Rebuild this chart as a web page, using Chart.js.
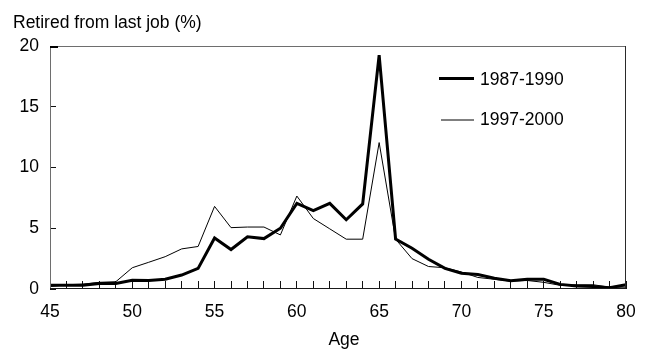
<!DOCTYPE html>
<html>
<head>
<meta charset="utf-8">
<script src="https://cdn.jsdelivr.net/npm/chart.js@4"></script>
<style>
html,body{margin:0;padding:0;background:#fff;}
#c{display:block;}
</style>
</head>
<body>
<canvas id="c" width="649" height="350"></canvas>
<script>
const ages = [45,46,47,48,49,50,51,52,53,54,55,56,57,58,59,60,61,62,63,64,65,66,67,68,69,70,71,72,73,74,75,76,77,78,79,80];
const series1987 = [0.3,0.3,0.3,0.45,0.45,0.72,0.7,0.8,1.15,1.7,4.2,3.25,4.3,4.15,5.0,7.05,6.45,7.05,5.7,7.0,19.25,4.1,3.35,2.45,1.7,1.3,1.2,0.88,0.68,0.8,0.8,0.38,0.25,0.2,0.1,0.35];
const series1997 = [0.2,0.35,0.4,0.55,0.6,1.75,2.2,2.66,3.3,3.5,6.8,5.05,5.1,5.1,4.45,7.65,5.8,4.95,4.1,4.1,12.05,4.1,2.5,1.85,1.75,1.4,0.95,0.8,0.65,0.7,0.55,0.3,0.35,0.35,0.15,0.15];
const yTicks = [0,5,10,15,20];
const xTickLabels = [45,50,55,60,65,70,75,80];
const seriesNames = ['1987-1990','1997-2000'];
const yTitle = 'Retired from last job (%)';
const xTitle = 'Age';

const FONT = 'Liberation Sans, Arial, sans-serif';
const FS = 17.5;

const decor = {
  id: 'decor',
  afterDraw(chart) {
    const ctx = chart.ctx;
    const a = chart.chartArea;
    const L = Math.round(a.left), R = Math.round(a.right), T = Math.round(a.top), B = Math.round(a.bottom);
    ctx.save();
    // plot frame as filled 1px rectangles
    ctx.fillStyle = '#6e6e6e';
    ctx.fillRect(L, T, 1, B - T);        // left
    ctx.fillRect(L, T, R - L, 1);        // top
    ctx.fillStyle = '#2a2a2a';
    ctx.fillRect(R - 1, T, 1, B - T);    // right
    ctx.fillStyle = '#1a1a1a';
    ctx.fillRect(L, B - 1, R - L, 1);    // bottom
    ctx.fillStyle = '#000';
    ctx.fillRect(L, T, 8, 2);            // dark mark at 20
    // titles
    ctx.fillStyle = '#000';
    ctx.font = FS + 'px ' + FONT;
    ctx.textBaseline = 'alphabetic';
    ctx.textAlign = 'left';
    ctx.fillText(yTitle, 13, 28);
    ctx.textAlign = 'center';
    ctx.fillText(xTitle, (a.left + a.right) / 2 + 6, 345);
    // legend
    const legLineY = [78.5, 120];
    const legTextY = [85, 125];
    chart.data.datasets.forEach((d, i) => {
      ctx.strokeStyle = d.borderColor;
      ctx.lineWidth = d.borderWidth;
      ctx.beginPath();
      ctx.moveTo(i === 0 ? 439 : 441, legLineY[i]);
      ctx.lineTo(474, legLineY[i]);
      ctx.stroke();
      ctx.textAlign = 'left';
      ctx.fillText(d.label, 480, legTextY[i]);
    });
    ctx.restore();
  }
};

new Chart(document.getElementById('c'), {
  type: 'line',
  data: {
    labels: ages,
    datasets: [
      { label: seriesNames[0], data: ages.map((a, i) => ({x: a, y: series1987[i]})), borderColor: '#000', borderWidth: 3, pointRadius: 0, tension: 0, fill: false },
      { label: seriesNames[1], data: ages.map((a, i) => ({x: a, y: series1997[i]})), borderColor: '#000', borderWidth: 1, pointRadius: 0, tension: 0, fill: false }
    ]
  },
  options: {
    responsive: false,
    animation: false,
    devicePixelRatio: 1,
    layout: { padding: { left: 0, right: 23, top: 46, bottom: 0 } },
    plugins: { legend: { display: false }, title: { display: false }, tooltip: { enabled: false } },
    scales: {
      x: {
        type: 'linear', position: 'bottom', min: 45, max: 80,
        grid: { display: true, drawOnChartArea: false, drawTicks: true, tickLength: -8, tickColor: '#111', tickWidth: 1 },
        border: { display: false },
        afterBuildTicks: s => { s.ticks = ages.map(v => ({value: v})); },
        afterFit: s => { s.height = 61; s.paddingLeft = 0; s.paddingRight = 0; },
        ticks: { color: '#000', font: { family: FONT, size: FS }, padding: 21, maxRotation: 0, autoSkip: false,
                 callback: v => xTickLabels.includes(v) ? String(v) : '' }
      },
      y: {
        position: 'left', min: 0, max: 20,
        grid: { display: true, drawOnChartArea: false, drawTicks: true, tickLength: -6, tickColor: '#111', tickWidth: 1 },
        border: { display: false },
        afterBuildTicks: s => { s.ticks = yTicks.map(v => ({value: v})); },
        afterFit: s => { s.width = 50; s.paddingTop = 0; s.paddingBottom = 0; },
        ticks: { color: '#000', font: { family: FONT, size: FS }, padding: 17 }
      }
    }
  },
  plugins: [decor]
});
</script>
</body>
</html>
